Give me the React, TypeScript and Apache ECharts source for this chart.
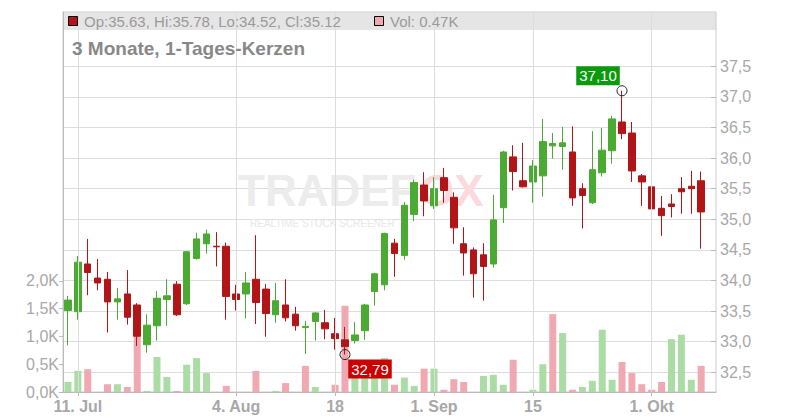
import React, { useEffect, useRef } from 'react';
import * as echarts from 'echarts';

// Trading days (10 Jul 2025 – 8 Oct 2025)
const dates = [
  '2025-07-10', '2025-07-11', '2025-07-14', '2025-07-15', '2025-07-16', '2025-07-17', '2025-07-18',
  '2025-07-21', '2025-07-22', '2025-07-23', '2025-07-24', '2025-07-25', '2025-07-28', '2025-07-29',
  '2025-07-30', '2025-07-31', '2025-08-01', '2025-08-04', '2025-08-05', '2025-08-06', '2025-08-07',
  '2025-08-08', '2025-08-11', '2025-08-12', '2025-08-13', '2025-08-14', '2025-08-15', '2025-08-18',
  '2025-08-19', '2025-08-20', '2025-08-21', '2025-08-22', '2025-08-25', '2025-08-26', '2025-08-27',
  '2025-08-28', '2025-08-29', '2025-09-01', '2025-09-02', '2025-09-03', '2025-09-04', '2025-09-05',
  '2025-09-08', '2025-09-09', '2025-09-10', '2025-09-11', '2025-09-12', '2025-09-15', '2025-09-16',
  '2025-09-17', '2025-09-18', '2025-09-19', '2025-09-22', '2025-09-23', '2025-09-24', '2025-09-25',
  '2025-09-26', '2025-09-29', '2025-09-30', '2025-10-01', '2025-10-02', '2025-10-03', '2025-10-06',
  '2025-10-07', '2025-10-08',
];

const opens = [
  33.51, 33.49, 34.27, 34.04, 34.02, 33.65, 33.78, 33.60, 32.95, 33.26, 33.69, 33.94, 33.62,
  34.36, 34.60, 34.56, 34.56, 33.78, 33.78, 34.02, 33.86, 33.44, 33.60, 33.45, 33.23, 33.33,
  33.31, 33.13, 33.03, 33.02, 33.18, 33.82, 33.93, 34.61, 34.41, 35.08, 35.56, 35.22, 35.68,
  35.36, 34.60, 34.50, 34.42, 34.27, 35.19, 36.02, 35.63, 35.61, 35.71, 36.20, 36.19, 36.10,
  35.50, 35.27, 35.76, 36.12, 36.59, 36.41, 35.71, 35.53, 35.18, 35.25, 35.50, 35.54, 35.63,
];
const closes = [
  33.68, 34.30, 34.13, 33.96, 33.65, 33.70, 33.40, 33.09, 33.27, 33.71, 33.75, 33.44, 34.47,
  34.68, 34.76, 34.55, 33.74, 33.69, 33.96, 33.64, 33.46, 33.67, 33.39, 33.26, 33.25, 33.47,
  33.21, 33.05, 32.92, 33.11, 33.60, 34.11, 34.77, 34.44, 35.23, 35.60, 35.30, 35.50, 35.47,
  34.86, 34.45, 34.11, 34.23, 34.99, 36.10, 35.78, 35.53, 35.87, 36.27, 36.24, 36.25, 35.35,
  35.39, 35.81, 36.13, 36.64, 36.40, 35.79, 35.61, 35.17, 35.06, 35.21, 35.45, 35.50, 35.12,
];
const lows = [
  32.94, 33.36, 33.76, 33.84, 33.15, 33.36, 33.28, 32.93, 32.82, 33.02, 33.26, 33.42, 33.60,
  34.34, 34.44, 34.23, 33.36, 33.51, 33.38, 33.29, 33.08, 33.31, 33.33, 33.18, 32.80, 33.02,
  33.04, 32.87, 32.79, 32.97, 33.03, 33.59, 33.84, 34.06, 34.34, 34.97, 35.05, 35.17, 35.27,
  34.60, 34.08, 33.72, 33.67, 34.21, 34.94, 35.47, 35.52, 35.27, 35.37, 35.99, 35.81, 35.22,
  34.85, 35.25, 35.70, 35.91, 36.31, 35.61, 35.22, 35.11, 34.73, 35.03, 35.09, 35.09, 34.52,
];
const highs = [
  33.75, 34.40, 34.68, 34.35, 34.14, 33.88, 34.17, 33.63, 33.45, 33.83, 34.02, 33.99, 34.48,
  34.78, 34.83, 34.79, 34.62, 33.93, 34.14, 34.74, 33.94, 33.96, 34.02, 33.57, 33.34, 33.48,
  33.52, 33.39, 33.24, 33.32, 33.62, 34.12, 34.78, 34.68, 35.28, 35.65, 35.77, 35.69, 35.84,
  35.44, 34.87, 34.54, 34.61, 35.40, 36.12, 36.21, 36.25, 35.97, 36.64, 36.41, 36.51, 36.52,
  35.59, 36.44, 36.49, 36.69, 37.10, 36.59, 35.74, 35.76, 35.38, 35.41, 35.69, 35.79, 35.78,
];
// Volume in thousands
const volumes = [
  0.18, 0.38, 0.41, 0, 0.14, 0.14, 0.09, 1.10, 0.02, 0.63, 0.27, 0.02, 0.49,
  0.61, 0.34, 0, 0.11, 0, 0, 0.38, 0, 0.02, 0.16, 0, 0.47, 0.09,
  0, 0.13, 1.55, 0.30, 0.35, 0.42, 0.61, 0.13, 0.26, 0.11, 0.42, 0.42, 0.04,
  0.23, 0.18, 0, 0.29, 0.31, 0.13, 0.58, 0, 0.04, 0.50, 1.40, 1.06, 0.04,
  0.09, 0.20, 1.12, 0.22, 0.54, 0.34, 0.14, 0.04, 0.18, 0.95, 1.03, 0.22, 0.47,
];

const tickDates = ['2025-07-11', '2025-08-04', '2025-08-18', '2025-09-01', '2025-09-15', '2025-10-01'];
const tickLabels = ['11. Jul', '4. Aug', '18', '1. Sep', '15', '1. Okt'];
const priceTicks = [32.5, 37.5];
const volumeTicks = [0, 2];

const FONT = "'Liberation Sans', Arial, Helvetica, sans-serif";
const UP = '#4aaa32';
const DOWN = '#b21518';
const VOL_UP = '#acdca6';
const VOL_DOWN = '#f0a9b1';

export default function App() {
  const ref = useRef<HTMLDivElement>(null);

  useEffect(() => {
    const chart = echarts.init(ref.current as HTMLDivElement, null, { renderer: 'svg' });
    const slots = [...dates, ''];
    const candleData = dates.map((_, i) => [opens[i], closes[i], lows[i], highs[i]]);
    const volData = volumes.map((v, i) => {
      const up = i === 0 ? closes[i] >= opens[i] : closes[i] >= closes[i - 1];
      return { value: v, itemStyle: { color: up ? VOL_UP : VOL_DOWN } };
    });
    const maxHigh = Math.max(...highs);
    const minLow = Math.min(...lows);
    const maxIdx = highs.indexOf(maxHigh);
    const minIdx = lows.indexOf(minLow);
    const last = dates.length - 1;
    const headerText =
      `Op:${opens[last].toFixed(2)}, Hi:${highs[last].toFixed(2)}, Lo:${lows[last].toFixed(2)}, Cl:${closes[last].toFixed(2)}`;
    const volText = `Vol: ${volumes[last].toFixed(2)}K`;
    const isTick = (_i: number, v: string) => tickDates.includes(v);
    const comma = (v: number) => v.toFixed(1).replace('.', ',');

    const option: any = {
      animation: false,
      textStyle: { fontFamily: FONT },
      grid: [
        { left: 63, right: 84, top: 12, bottom: 28, show: true, borderColor: '#cccccc', borderWidth: 1, backgroundColor: 'rgba(0,0,0,0)', outerBoundsMode: 'none' },
        { left: 63, right: 84, top: 66.3, bottom: 47.7, outerBoundsMode: 'none' },
        { left: 63, right: 84, top: 280.8, bottom: 28, outerBoundsMode: 'none' },
      ],
      xAxis: [
        {
          gridIndex: 0, type: 'category', data: slots,
          axisLine: { show: true, lineStyle: { color: '#bbbbbb' } },
          axisTick: { show: true, alignWithLabel: true, interval: isTick, length: 4, lineStyle: { color: '#bbbbbb' } },
          axisLabel: {
            interval: isTick,
            formatter: (v: string) => { const k = tickDates.indexOf(v); return k >= 0 ? tickLabels[k] : ''; },
            color: '#a8a8a8', fontSize: 16, fontWeight: 'bold', margin: 6, fontFamily: FONT,
          },
          splitLine: { show: false },
        },
        { gridIndex: 1, type: 'category', data: slots, show: false },
        { gridIndex: 2, type: 'category', data: slots, show: false },
      ],
      yAxis: [
        {
          gridIndex: 0, type: 'value', min: 0, max: 1, position: 'left',
          axisLine: { show: true, lineStyle: { color: '#bbbbbb' } },
          axisTick: { show: false }, axisLabel: { show: false }, splitLine: { show: false },
        },
        {
          gridIndex: 1, type: 'value', position: 'right', min: priceTicks[0], max: priceTicks[1], interval: 0.5,
          axisLine: { show: false },
          axisTick: { show: true, inside: true, length: 5, lineStyle: { color: '#bbbbbb' } },
          axisLabel: { formatter: comma, color: '#a8a8a8', fontSize: 16, margin: 4, fontFamily: FONT },
          splitLine: { show: true, lineStyle: { color: '#dddddd', width: 1 } },
        },
        {
          gridIndex: 2, type: 'value', position: 'left', min: volumeTicks[0], max: volumeTicks[1], interval: 0.5,
          axisLine: { show: false },
          axisTick: { show: true, length: 4, lineStyle: { color: '#bbbbbb' } },
          axisLabel: { formatter: (v: number) => comma(v) + 'K', color: '#a8a8a8', fontSize: 16, margin: 4, fontFamily: FONT },
          splitLine: { show: false },
        },
      ],
      series: [
        {
          type: 'line', xAxisIndex: 0, yAxisIndex: 0, data: [], z: 1, silent: true,
          markLine: {
            silent: true, symbol: ['none', 'none'], label: { show: false },
            lineStyle: { color: '#dddddd', type: 'solid', width: 1 },
            emphasis: { disabled: true },
            data: tickDates.map((d) => ({ xAxis: d })),
          },
        },
        {
          type: 'bar', xAxisIndex: 2, yAxisIndex: 2, barWidth: 7, data: volData, z: 2, silent: true,
        },
        {
          type: 'candlestick', xAxisIndex: 1, yAxisIndex: 1, barWidth: 7, data: candleData, z: 3, silent: true,
          itemStyle: { color: UP, color0: DOWN, borderColor: UP, borderColor0: DOWN, borderWidth: 1 },
          markPoint: {
            silent: true,
            symbol: 'circle',
            symbolSize: 10,
            itemStyle: { color: 'rgba(255,255,255,0)', borderColor: '#222222', borderWidth: 1 },
            label: {
              show: true, position: 'inside', color: '#ffffff', fontSize: 15, lineHeight: 15,
              fontFamily: FONT, padding: [2, 3],
              formatter: (p: any) => Number(p.value).toFixed(2).replace('.', ','),
            },
            data: [
              { coord: [dates[maxIdx], maxHigh], value: maxHigh, label: { offset: [-24, -15], backgroundColor: '#0b9a0b' } },
              { coord: [dates[minIdx], minLow], value: minLow, label: { offset: [25, 14.5], backgroundColor: '#cc0000' } },
            ],
          },
        },
      ],
      graphic: {
        elements: [
          { type: 'rect', z: -1, silent: true, shape: { x: 63.5, y: 12.5, width: 652.5, height: 17.5 }, style: { fill: '#e5e5e5' } },
          { type: 'rect', z: 10, silent: true, shape: { x: 68.5, y: 16.5, width: 9, height: 9 }, style: { fill: DOWN, stroke: '#000000', lineWidth: 1 } },
          { type: 'text', z: 10, silent: true, x: 84, y: 21.5, style: { text: headerText, fill: '#9a9a9a', fontSize: 15, fontFamily: FONT, verticalAlign: 'middle' } },
          { type: 'rect', z: 10, silent: true, shape: { x: 374.5, y: 16.5, width: 9, height: 9 }, style: { fill: VOL_DOWN, stroke: '#000000', lineWidth: 1 } },
          { type: 'text', z: 10, silent: true, x: 390, y: 21.5, style: { text: volText, fill: '#9a9a9a', fontSize: 15, fontFamily: FONT, verticalAlign: 'middle' } },
          { type: 'text', z: 10, silent: true, x: 72, y: 48, style: { text: '3 Monate, 1-Tages-Kerzen', fill: '#888888', fontSize: 19, fontWeight: 'bold', fontFamily: FONT, verticalAlign: 'middle' } },
          { type: 'text', z: 1, silent: true, x: 238, y: 190, style: { text: 'TRADEF', fill: '#ececec', fontSize: 44, lineHeight: 34, fontWeight: 'bold', fontFamily: FONT, verticalAlign: 'middle' } },
          { type: 'text', z: 1, silent: true, x: 420, y: 190, style: { text: 'OX', fill: '#fcd9dc', fontSize: 44, lineHeight: 34, fontWeight: 'bold', fontFamily: FONT, verticalAlign: 'middle' } },
          { type: 'text', z: 1, silent: true, x: 250, y: 223, style: { text: 'REALTIME STOCK SCREENER', fill: '#e8e8e8', fontSize: 10, lineHeight: 10, fontFamily: FONT, verticalAlign: 'middle' } },
        ],
      },
    };

    chart.setOption(option);
    return () => chart.dispose();
  }, []);

  return (
    <div
      ref={ref}
      style={{ position: 'fixed', left: 0, top: 0, width: 800, height: 420, background: '#ffffff' }}
    />
  );
}
